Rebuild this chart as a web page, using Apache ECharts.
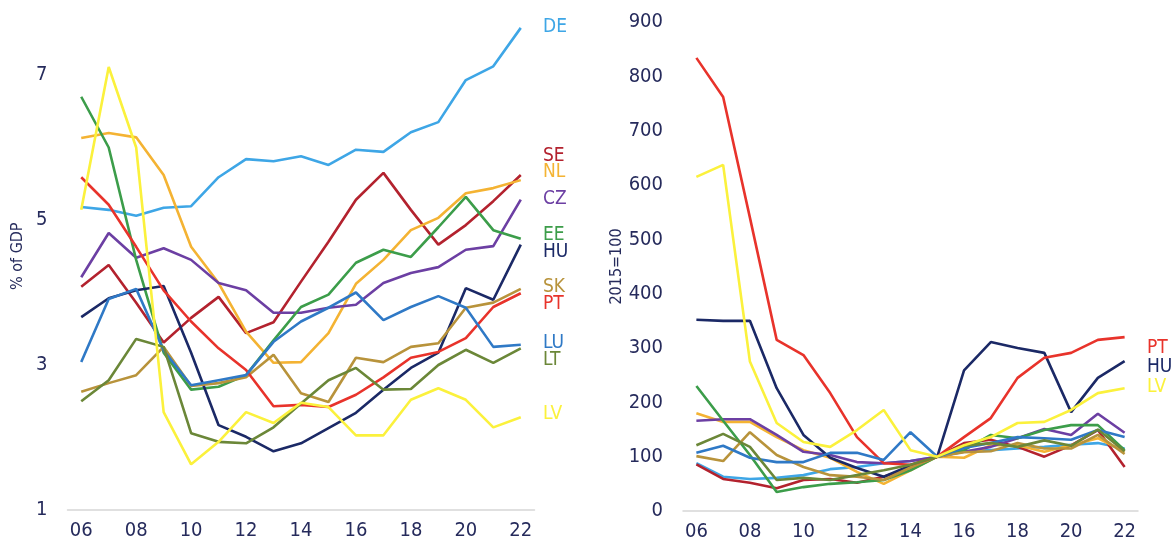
<!DOCTYPE html>
<html>
<head>
<meta charset="utf-8">
<script src="https://cdn.jsdelivr.net/npm/echarts@6/dist/echarts.min.js"></script>
<style>
html,body{margin:0;padding:0;background:#fff;}
#c{width:1176px;height:548px;}
</style>
</head>
<body>
<div id="c"></div>
<script>
const years = ['06','07','08','09','10','11','12','13','14','15','16','17','18','19','20','21','22'];
const countries = ['DE','SE','NL','CZ','EE','HU','SK','PT','LU','LT','LV'];
const colors = {
  DE:'#3ea6e6', SE:'#b3222e', NL:'#f4b333', CZ:'#6c3fa3', EE:'#3c9d4a', HU:'#1b2966',
  SK:'#b8933b', PT:'#e8332b', LU:'#2f79c6', LT:'#6b8738', LV:'#fbf13c'
};
// Left panel: % of GDP
const gdpDE = [5.18,5.14,5.06,5.17,5.19,5.59,5.84,5.81,5.88,5.76,5.97,5.94,6.21,6.35,6.93,7.12,7.65];
const gdpSE = [4.08,4.38,3.86,3.31,3.65,3.94,3.44,3.59,4.15,4.70,5.28,5.65,5.14,4.66,4.93,5.26,5.62];
const gdpNL = [6.13,6.20,6.14,5.62,4.63,4.13,3.46,3.03,3.04,3.44,4.12,4.45,4.86,5.03,5.37,5.44,5.55];
const gdpCZ = [4.21,4.82,4.48,4.61,4.45,4.13,4.03,3.72,3.72,3.79,3.83,4.13,4.27,4.35,4.59,4.64,5.28];
const gdpEE = [6.70,6.00,4.45,3.17,2.66,2.70,2.86,3.34,3.80,3.97,4.41,4.59,4.49,4.90,5.32,4.86,4.74];
const gdpHU = [3.66,3.92,4.03,4.09,3.17,2.17,2.01,1.81,1.92,2.13,2.34,2.66,2.96,3.17,4.06,3.90,4.66];
const gdpSK = [2.63,2.75,2.86,3.25,2.71,2.75,2.83,3.14,2.61,2.49,3.10,3.04,3.25,3.30,3.79,3.86,4.05];
const gdpPT = [5.59,5.21,4.63,4.03,3.60,3.23,2.93,2.43,2.45,2.42,2.59,2.83,3.10,3.18,3.37,3.80,3.99];
const gdpLU = [3.04,3.91,4.05,3.20,2.72,2.79,2.86,3.32,3.60,3.79,4.00,3.62,3.80,3.95,3.79,3.25,3.28];
const gdpLT = [2.50,2.79,3.36,3.25,2.06,1.94,1.92,2.14,2.47,2.79,2.96,2.66,2.67,3.00,3.21,3.03,3.23];
const gdpLV = [5.14,7.11,6.00,2.35,1.63,1.94,2.35,2.20,2.48,2.42,2.03,2.03,2.52,2.68,2.52,2.14,2.28];
// Right panel: index 2015=100
const idxDE = [88,63,59,61,66,77,81,88,92,100,110,112,115,118,122,125,115];
const idxSE = [86,59,52,42,57,59,52,63,80,100,125,131,118,100,121,149,81];
const idxNL = [180,164,164,136,112,98,72,50,75,100,98,121,121,109,121,134,109];
const idxCZ = [166,169,169,140,109,103,90,88,92,100,109,118,134,151,140,179,144];
const idxEE = [230,166,103,35,44,50,53,57,75,100,112,140,134,149,158,158,112];
const idxHU = [352,350,350,226,140,98,79,63,84,100,259,311,300,291,182,245,276];
const idxSK = [101,92,145,103,81,66,63,57,80,100,108,110,125,115,115,140,105];
const idxPT = [834,762,540,315,287,217,136,88,85,100,136,171,245,282,291,315,320];
const idxLU = [107,120,98,90,90,107,107,94,145,100,116,125,136,134,131,149,136];
const idxLT = [121,142,118,57,61,57,66,75,85,100,120,125,118,130,120,150,110];
const idxLV = [615,637,275,162,127,118,149,186,112,100,121,136,162,164,186,217,226];
const leftTicks = [1,3,5,7];
const rightTicks = [0,100,200,300,400,500,600,700,800,900];

const gdp = {DE:gdpDE,SE:gdpSE,NL:gdpNL,CZ:gdpCZ,EE:gdpEE,HU:gdpHU,SK:gdpSK,PT:gdpPT,LU:gdpLU,LT:gdpLT,LV:gdpLV};
const idx = {DE:idxDE,SE:idxSE,NL:idxNL,CZ:idxCZ,EE:idxEE,HU:idxHU,SK:idxSK,PT:idxPT,LU:idxLU,LT:idxLT,LV:idxLV};

const leftLabels = [['DE',28],['SE',157],['NL',173],['CZ',200],['EE',236],['HU',253],['SK',288],['PT',305],['LU',344],['LT',361],['LV',415]];
const rightLabels = [['PT',349],['HU',368],['LV',388]];

const FONT = "'DejaVu Sans Condensed','Liberation Sans',sans-serif";
const NAVY = '#262b5c';

const chart = echarts.init(document.getElementById('c'), null, {renderer:'canvas'});
const xAxisCommon = {
  type:'category', data: years, boundaryGap:true,
  axisLine:{show:true, lineStyle:{color:'#d6d6d6', width:1.5}},
  axisTick:{show:false},
  axisLabel:{interval:1, color:NAVY, fontSize:20, fontFamily:FONT, margin:11}
};
const series = [];
countries.forEach(c => {
  series.push({type:'line', name:c, xAxisIndex:0, yAxisIndex:0, data:gdp[c], symbol:'none',
    lineStyle:{color:colors[c], width:2.6}, z: c==='LV'?3:2, animation:false});
});
countries.forEach(c => {
  series.push({type:'line', name:c+'i', xAxisIndex:1, yAxisIndex:1, data:idx[c], symbol:'none',
    lineStyle:{color:colors[c], width:2.6}, animation:false});
});
const graphics = [];
leftLabels.forEach(([n,y]) => graphics.push({type:'text', left:543, top:y-10,
  style:{text:n, fill:colors[n], font:'19px '+FONT}}));
rightLabels.forEach(([n,y]) => graphics.push({type:'text', left:1147, top:y-10,
  style:{text:n, fill:colors[n], font:'19px '+FONT}}));

chart.setOption({
  backgroundColor:'#fff',
  animation:false,
  grid:[
    {left:67.5, width:467, top:2.5, bottom:38},
    {left:683, width:455, top:22, bottom:37}
  ],
  xAxis:[Object.assign({gridIndex:0}, xAxisCommon), Object.assign({gridIndex:1}, xAxisCommon)],
  yAxis:[
    {gridIndex:0, type:'value', min:1, max:8, interval:2,
     name:'% of GDP', nameLocation:'middle', nameGap:42, nameRotate:90,
     nameTextStyle:{color:NAVY, fontSize:16, fontFamily:FONT},
     axisLine:{show:false}, axisTick:{show:false}, splitLine:{show:false},
     axisLabel:{color:NAVY, fontSize:20, fontFamily:FONT, margin:20, showMaxLabel:false,
       formatter: v => leftTicks.includes(v) ? String(v) : ''}},
    {gridIndex:1, type:'value', min:0, max:900, interval:100,
     name:'2015=100', nameLocation:'middle', nameGap:58, nameRotate:90,
     nameTextStyle:{color:NAVY, fontSize:16, fontFamily:FONT},
     axisLine:{show:false}, axisTick:{show:false}, splitLine:{show:false},
     axisLabel:{color:NAVY, fontSize:20, fontFamily:FONT, margin:20,
       formatter: v => rightTicks.includes(v) ? String(v) : ''}}
  ],
  series: series,
  graphic: graphics
});
</script>
</body>
</html>
